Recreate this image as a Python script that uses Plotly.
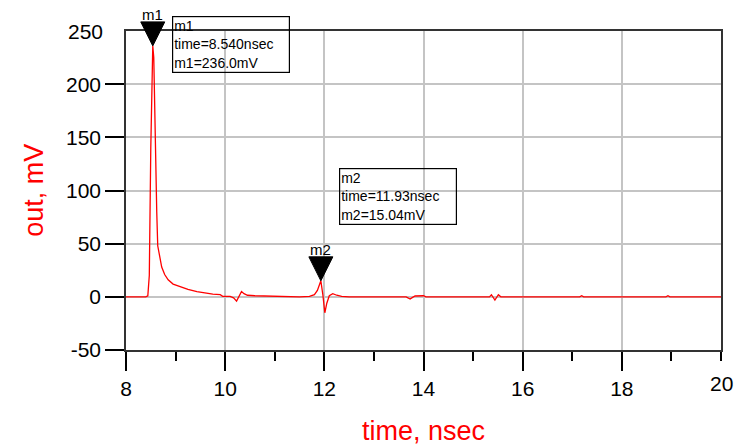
import plotly.graph_objects as go

# ---- data ----
time_ns = [8.00, 8.40, 8.44, 8.47, 8.50, 8.53, 8.54, 8.56, 8.58, 8.60, 8.62, 8.64,
           8.68, 8.72, 8.78, 8.85, 8.95, 9.09, 9.25, 9.43, 9.60, 9.75, 9.90, 9.95,
           10.10, 10.17, 10.23, 10.28, 10.33, 10.38, 10.45, 10.60, 11.00, 11.50,
           11.70, 11.80, 11.86, 11.93, 11.97, 12.01, 12.05, 12.10, 12.17, 12.25,
           12.35, 12.50, 13.65, 13.73, 13.78, 13.83, 14.00, 14.05, 15.33, 15.37,
           15.44, 15.51, 15.56, 17.15, 17.19, 17.23, 18.89, 18.93, 18.97, 20.00]
out_mV = [0, 0, 1, 20, 140, 225, 236, 225, 170, 120, 80, 48,
          36, 28, 21, 16, 12, 9.5, 7, 5, 3.5, 2.5, 2, 0.5,
          0.5, -1, -4, 0, 5, 3, 1.5, 1, 0.5, 0,
          0.5, 2, 6, 15.04, 2, -15, -6, 1, 3, 1.5,
          0.5, 0, 0, -2, -0.5, 0.8, 1, 0, 0, 2,
          -3, 2, 0, 0, 1, 0, 0, 1, 0, 0]

marker_names = ["m1", "m2"]
marker_time = [8.540, 11.93]
marker_val = [236.0, 15.04]
marker_time_txt = ["8.540", "11.93"]
marker_val_txt = ["236.0", "15.04"]
# readout boxes, top-left corner (data coords)
box_x = [8.93, 12.30]
box_y = [264, 121]

x_range = [8, 20]
y_range = [-50, 250]
x_tickvals = [8, 10, 12, 14, 16, 18]
x_ticktext = ["8", "10", "12", "14", "16", "18"]
x_edge_label = "20"
y_tickvals = [-50, 0, 50, 100, 150, 200]
y_ticktext = ["-50", "0", "50", "100", "150", "200"]
y_edge_label = "250"

RED = "#ff0000"
FONT = "Liberation Sans, Arial, sans-serif"


def px_(t):
    return (t - x_range[0]) / (x_range[1] - x_range[0])


def py_(v):
    return (v - y_range[0]) / (y_range[1] - y_range[0])


fig = go.Figure()
fig.add_trace(go.Scatter(x=time_ns, y=out_mV, mode="lines",
                         line=dict(color=RED, width=1.3), hoverinfo="skip",
                         showlegend=False))

shapes = []
annotations = []
for name, t, v, tt, vt, bx, by in zip(marker_names, marker_time, marker_val,
                                      marker_time_txt, marker_val_txt, box_x, box_y):
    # downward triangle with its tip on the marked point
    shapes.append(dict(type="path", xref="paper", yref="paper", xsizemode="pixel",
                       ysizemode="pixel", xanchor=px_(t), yanchor=py_(v),
                       path="M -12 24 L 12 24 L 0 0 Z",
                       fillcolor="black", line=dict(color="black", width=1)))
    annotations.append(dict(x=px_(t), y=py_(v), xref="paper", yref="paper",
                            text=name, showarrow=False, yshift=31,
                            xanchor="center", yanchor="middle",
                            font=dict(family=FONT, size=15, color="black")))
    # readout box (one multi-line text with its own frame)
    annotations.append(dict(x=px_(bx), y=py_(by), xref="paper", yref="paper",
                            text=f"{name}<br>time={tt}nsec<br>{name}={vt}mV",
                            showarrow=False, xanchor="left", yanchor="top",
                            align="left", width=114, borderpad=1,
                            bordercolor="black", borderwidth=1.2,
                            font=dict(family=FONT, size=14, color="black")))

# edge tick labels (no tick mark in the reference, frame coincides)
annotations.append(dict(x=0, y=py_(250), xref="paper", yref="paper",
                        text=y_edge_label, showarrow=False, xanchor="right",
                        yanchor="middle", xshift=-21,
                        font=dict(family=FONT, size=21, color="black")))
annotations.append(dict(x=px_(20), y=0, xref="paper", yref="paper",
                        text=x_edge_label, showarrow=False, xanchor="center",
                        yanchor="middle", yshift=-33,
                        font=dict(family=FONT, size=21, color="black")))

annotations.append(dict(x=-0.156, y=0.5, xref="paper", yref="paper",
                        text="out, mV", textangle=-90, showarrow=False,
                        xanchor="center", yanchor="middle",
                        font=dict(family=FONT, size=27, color=RED)))
annotations.append(dict(x=0.5, y=-0.254, xref="paper", yref="paper",
                        text="time, nsec", showarrow=False,
                        xanchor="center", yanchor="middle",
                        font=dict(family=FONT, size=27, color=RED)))

fig.update_layout(
    width=738, height=446,
    margin=dict(l=126, r=17, t=31, b=96),
    paper_bgcolor="white", plot_bgcolor="white",
    shapes=shapes, annotations=annotations,
    xaxis=dict(range=x_range, tickvals=x_tickvals, ticktext=x_ticktext,
               showgrid=True, gridcolor="#c4c4c4", gridwidth=1.5,
               showline=True, linecolor="#333333", linewidth=1.5, mirror=True,
               ticks="outside", ticklen=19, tickwidth=1.5, tickcolor="black",
               minor=dict(dtick=1, tick0=8, ticks="outside", ticklen=9,
                          tickwidth=1.5, tickcolor="black", showgrid=False),
               tickfont=dict(family=FONT, size=21, color="black"),
               zeroline=False),
    yaxis=dict(range=y_range, tickvals=y_tickvals, ticktext=y_ticktext,
               showgrid=True, gridcolor="#c4c4c4", gridwidth=1.5,
               showline=True, linecolor="#333333", linewidth=1.5, mirror=True,
               ticks="outside", ticklen=19, tickwidth=1.5, tickcolor="black",
               tickfont=dict(family=FONT, size=21, color="black"),
               zeroline=False),
)

fig.write_html("out.html")
